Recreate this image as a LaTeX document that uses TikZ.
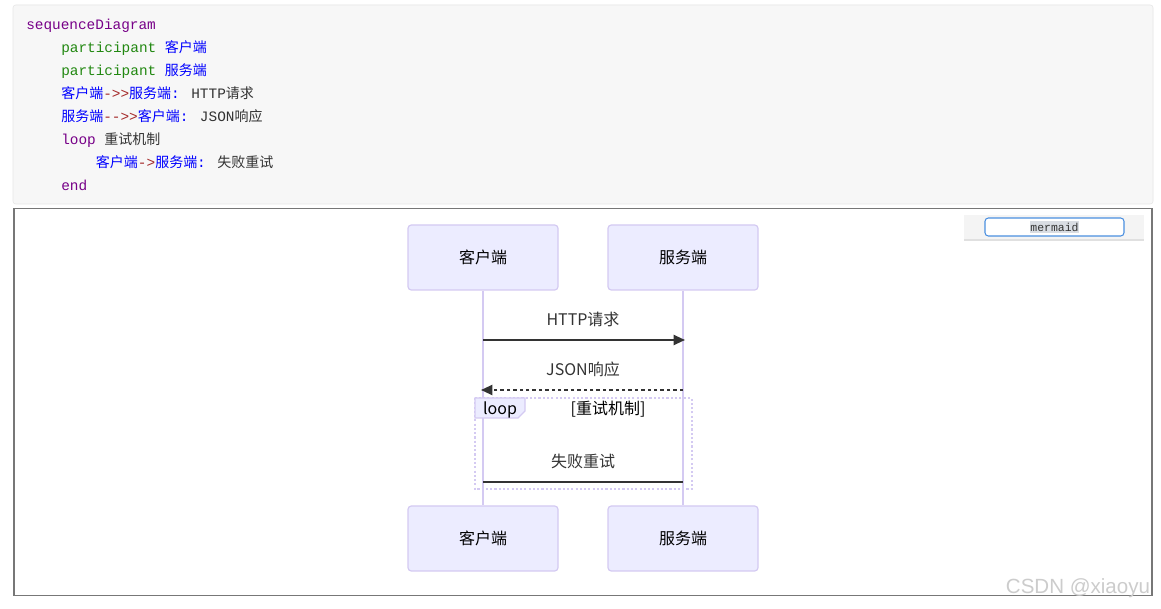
\documentclass[tikz,border=0pt]{standalone}
\usepackage{fontspec}
\usetikzlibrary{arrows.meta}
\newfontfamily\cjkf{Noto Sans CJK SC}
\newfontfamily\monof{Liberation Mono}
\newfontfamily\wmf{Liberation Sans}
\definecolor{codebg}{HTML}{F7F7F7}
\definecolor{codeborder}{HTML}{E6E6E6}
\definecolor{framegray}{HTML}{777777}
\definecolor{kwpurple}{HTML}{770088}
\definecolor{kwgreen}{HTML}{228811}
\definecolor{nameblue}{HTML}{0000FF}
\definecolor{oparrow}{HTML}{A52A2A}
\definecolor{txtdark}{HTML}{333333}
\definecolor{actorfill}{HTML}{ECECFF}
\definecolor{actorborder}{HTML}{D4CAF2}
\definecolor{btnbg}{HTML}{F4F4F4}
\definecolor{btnblue}{HTML}{4A8FE0}
\definecolor{selgray}{HTML}{D9DDE3}
\definecolor{wmgray}{HTML}{CCCCCC}
\newcommand{\Mo}[2]{{\monof\fontsize{10.8}{13}\selectfont\color{#1}#2}}
\newcommand{\Cj}[2]{{\cjkf\fontsize{10.5}{13}\selectfont\color{#1}#2}}
\begin{document}
\begin{tikzpicture}[x=0.75pt,y=-0.75pt,
  codeline/.style={anchor=base west,inner sep=0pt},
  actor/.style={draw=actorborder,fill=actorfill,line width=0.9pt,rounded corners=2.5pt,
    minimum width=112.5pt,minimum height=48.75pt,font=\cjkf\fontsize{12}{14}\selectfont,text=black},
  lifeline/.style={draw=actorborder,line width=1.3pt},
  msglabel/.style={font=\cjkf\fontsize{12}{14}\selectfont,text=txtdark,inner sep=0pt},
  msg/.style={draw=txtdark,line width=1.5pt},
  msgtip/.style={-{Triangle[length=8.5pt,width=7.5pt]}},
  loopframe/.style={draw=actorborder,line width=1.5pt,dash pattern=on 1.6pt off 1.6pt},
  looplabel/.style={font=\cjkf\fontsize{12}{14}\selectfont,text=black,inner sep=0pt}
]
\useasboundingbox (0,0) rectangle (1161,609);
\fill[white] (0,0) rectangle (1161,609);

% code block
\draw[codeborder,fill=codebg,rounded corners=2pt] (13,5) rectangle (1153,204);
\node[codeline] (c1) at (26,29.3) {\Mo{kwpurple}{sequenceDiagram}};
\node[codeline] (c2) at (61,52.3) {\Mo{kwgreen}{participant }\Cj{nameblue}{客户端}};
\node[codeline] (c3) at (61,75.3) {\Mo{kwgreen}{participant }\Cj{nameblue}{服务端}};
\node[codeline] (c4) at (61,98.3) {\Cj{nameblue}{客户端}\Mo{oparrow}{->>}\Cj{nameblue}{服务端}\Mo{nameblue}{: }\Mo{txtdark}{HTTP}\Cj{txtdark}{请求}};
\node[codeline] (c5) at (61,121.3) {\Cj{nameblue}{服务端}\Mo{oparrow}{-{}->>}\Cj{nameblue}{客户端}\Mo{nameblue}{: }\Mo{txtdark}{JSON}\Cj{txtdark}{响应}};
\node[codeline] (c6) at (61,144.3) {\Mo{kwpurple}{loop }\Cj{txtdark}{重试机制}};
\node[codeline] (c7) at (95.7,167.3) {\Cj{nameblue}{客户端}\Mo{oparrow}{->}\Cj{nameblue}{服务端}\Mo{nameblue}{: }\Cj{txtdark}{失败重试}};
\node[codeline] (c8) at (61,190.3) {\Mo{kwpurple}{end}};

% diagram frame
\draw[framegray,line width=0.9pt] (14,208.5) rectangle (1152,595.5);

% mermaid button
\fill[btnbg] (964,215) rectangle (1144,240);
\draw[black!12,line width=0.8pt] (964,240) -- (1144,240);
\node[draw=btnblue,fill=white,line width=0.8pt,rounded corners=2.5pt,minimum width=104.25pt,minimum height=13.5pt,inner sep=0pt] (btn) at (1054.5,227) {};
\node[fill=selgray,inner xsep=0pt,inner ysep=1.2pt,font=\monof\fontsize{8.6}{10}\selectfont,text=txtdark] (btntext) at (btn.center) {mermaid};

% actors
\node[actor] (a1) at (483,257.5) {\raisebox{-1.2pt}{客户端}};
\node[actor] (b1) at (683,257.5) {\raisebox{-1.2pt}{服务端}};
\node[actor] (a2) at (483,538.5) {\raisebox{-1.2pt}{客户端}};
\node[actor] (b2) at (683,538.5) {\raisebox{-1.2pt}{服务端}};

% lifelines
\draw[lifeline] (a1.south) -- (a2.north);
\draw[lifeline] (b1.south) -- (b2.north);

% points on lifelines
\coordinate (m1s) at (483,340);
\coordinate (m1e) at (685,340);
\coordinate (m2s) at (683,390);
\coordinate (m2e) at (481,390);
\coordinate (m3s) at (483,482);
\coordinate (m3e) at (683,482);

% messages
\node[msglabel] (t1) at (583,319.5) {HTTP请求};
\draw[msg,msgtip] (m1s) -- (m1e);
\node[msglabel] (t2) at (583,369.5) {JSON响应};
\draw[msg,msgtip,dash pattern=on 2.6pt off 2.2pt] (m2s) -- (m2e);

% loop frame
\draw[loopframe] (475,398) rectangle (691.5,489.5);
\filldraw[fill=actorfill,draw=actorborder,line width=1pt] (475,398) -- (525,398) -- (525,411) -- (518,418) -- (475,418) -- cycle;
\node[looplabel] (lp) at (500,409.5) {loop};
\node[looplabel] (lc) at (608,409.5) {[重试机制]};

\node[msglabel] (t3) at (583,461.5) {失败重试};
\draw[msg] (m3s) -- (m3e);

% watermark
\node[anchor=base,inner sep=0pt,font=\wmf\fontsize{15.4}{18}\selectfont,text=wmgray] (wm) at (1078,594) {CSDN @xiaoyu};
\end{tikzpicture}
\end{document}
